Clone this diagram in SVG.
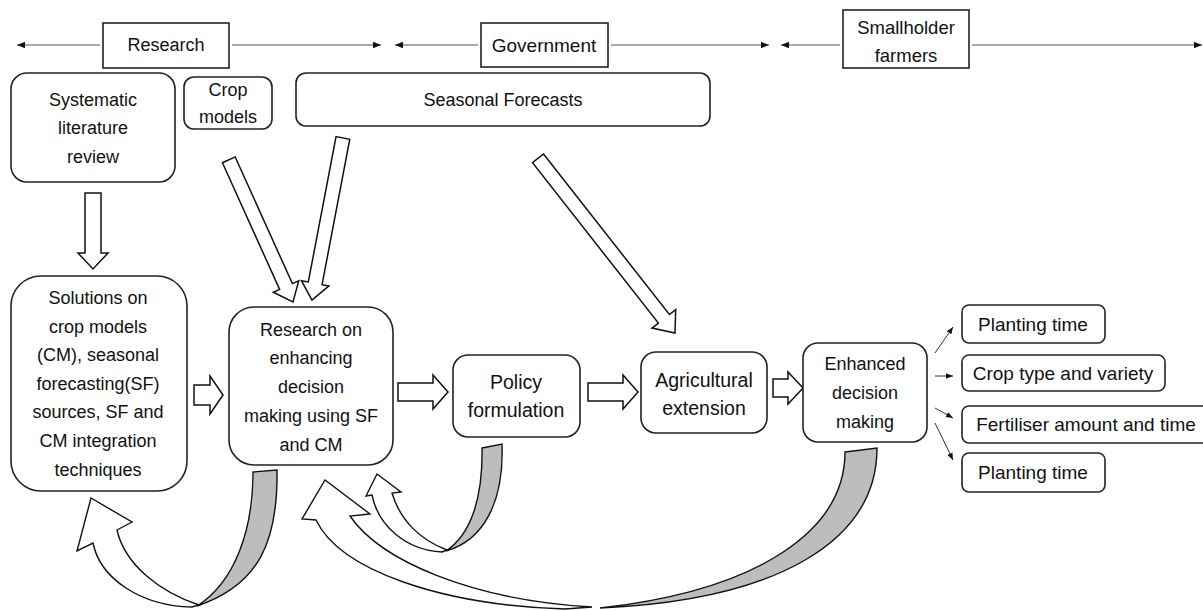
<svg xmlns="http://www.w3.org/2000/svg" width="1203" height="611" viewBox="0 0 1203 611">
<defs>
<marker id="ah" viewBox="0 0 10 10" refX="10" refY="5" markerWidth="8" markerHeight="8" markerUnits="userSpaceOnUse" orient="auto">
<path d="M0,1 L10,5 L0,9 Z" fill="#111"/>
</marker>
<marker id="as" viewBox="0 0 10 10" refX="10" refY="5" markerWidth="7" markerHeight="7" markerUnits="userSpaceOnUse" orient="auto">
<path d="M0,1 L10,5 L0,9 Z" fill="#111"/>
</marker>
</defs>
<style>
.box{fill:#fff;stroke:#222;stroke-width:1.6}
.t{font-family:"Liberation Sans",Arial,sans-serif;font-size:18px;fill:#111;text-anchor:middle;dominant-baseline:central}
.hl{stroke:#555;stroke-width:1.2;fill:none;marker-end:url(#ah)}
.sl{stroke:#333;stroke-width:1;fill:none;marker-end:url(#as)}
.ba{fill:#fff;stroke:#111;stroke-width:1.5;stroke-linejoin:miter}
.gr{fill:#bdbdbd;stroke:#111;stroke-width:1.4}
.cw{fill:#fff;stroke:#111;stroke-width:1.4}
</style>
<rect width="1203" height="611" fill="#fff"/>

<g id="connectors">
<!-- header arrows -->
<line class="hl" x1="100" y1="45" x2="17" y2="45"/>
<line class="hl" x1="232" y1="45" x2="381" y2="45"/>
<line class="hl" x1="478" y1="45" x2="395" y2="45"/>
<line class="hl" x1="611" y1="45" x2="769" y2="45"/>
<line class="hl" x1="840" y1="45" x2="781" y2="45"/>
<line class="hl" x1="972" y1="45" x2="1202" y2="45"/>
<!-- block arrows -->
<polygon class="ba" transform="translate(93,269) rotate(90)" points="-76,-8 -16,-8 -16,-15 0,0 -16,15 -16,8 -76,8"/>
<polygon class="ba" transform="translate(293,302) rotate(65.7)" points="-156,-7 -17,-7 -17,-14 0,0 -17,14 -17,7 -156,7"/>
<polygon class="ba" transform="translate(312,300) rotate(100.8)" points="-165,-7 -17,-7 -17,-14 0,0 -17,14 -17,7 -165,7"/>
<polygon class="ba" transform="translate(675,333) rotate(51.9)" points="-222,-7 -18,-7 -18,-15 0,0 -18,15 -18,7 -222,7"/>
<polygon class="ba" transform="translate(223,395)" points="-29,-10 -13,-10 -13,-19 0,0 -13,19 -13,10 -29,10"/>
<polygon class="ba" transform="translate(448,392)" points="-50,-9 -15,-9 -15,-17 0,0 -15,17 -15,9 -50,9"/>
<polygon class="ba" transform="translate(638,392)" points="-50,-9 -15,-9 -15,-17 0,0 -15,17 -15,9 -50,9"/>
<polygon class="ba" transform="translate(803,388)" points="-30,-9 -15,-9 -15,-16 0,0 -15,16 -15,9 -30,9"/>
<!-- small output arrows -->
<line class="sl" x1="935" y1="353" x2="953" y2="327"/>
<line class="sl" x1="935" y1="376" x2="953" y2="376"/>
<line class="sl" x1="935" y1="408" x2="953" y2="418"/>
<line class="sl" x1="935" y1="423" x2="953" y2="460"/>
<!-- curved feedback arrows -->
<path class="gr" d="M253,472 L277,470 C278,540 260,585 197,606 C235,582 253,530 253,472 Z"/>
<path class="cw" d="M93,543 C100,578 140,606 192,607 L199,605 C160,592 125,565 117,530 L132,522 L91,498 L77,551 Z"/>
<path class="gr" d="M482,448 L502,444 C504,500 485,540 446,551 C470,535 483,500 482,448 Z"/>
<path class="cw" d="M372,495 C378,525 405,550 442,552 L447,550 C420,540 400,520 392,493 L401,492 L377,474 L366,496 Z"/>
<path class="gr" d="M845,452 L877,448 C877,540 780,600 600,608 C760,590 845,530 845,452 Z"/>
<path class="cw" d="M316,520 C340,570 440,605 565,609 L592,607 C470,600 380,560 350,516 L370,514 L325,480 L302,519 Z"/>
</g>

<g id="hdr-research">
<rect class="box" x="103" y="23" width="126" height="45"/>
<text class="t" x="166" y="45">Research</text>
</g>
<g id="hdr-government">
<rect class="box" x="481" y="23" width="127" height="44"/>
<text class="t" x="544" y="45" style="font-size:19px">Government</text>
</g>
<g id="hdr-farmers">
<rect class="box" x="843" y="10" width="126" height="58"/>
<text class="t" x="906" y="27" style="font-size:18.5px">Smallholder</text>
<text class="t" x="906" y="55" style="font-size:18.5px">farmers</text>
</g>

<g id="slr">
<rect class="box" x="11" y="73" width="164" height="109" rx="16"/>
<text class="t" x="93" y="100">Systematic</text>
<text class="t" x="93" y="128">literature</text>
<text class="t" x="93" y="157">review</text>
</g>
<g id="crop-models">
<rect class="box" x="184" y="77" width="88" height="52" rx="10"/>
<text class="t" x="228" y="90">Crop</text>
<text class="t" x="228" y="117">models</text>
</g>
<g id="seasonal-forecasts">
<rect class="box" x="296" y="73" width="414" height="53" rx="10"/>
<text class="t" x="503" y="100">Seasonal Forecasts</text>
</g>

<g id="solutions">
<rect class="box" x="11" y="276" width="176" height="215" rx="30"/>
<text class="t" x="98" y="298">Solutions on</text>
<text class="t" x="98" y="327">crop models</text>
<text class="t" x="98" y="355">(CM), seasonal</text>
<text class="t" x="98" y="384">forecasting(SF)</text>
<text class="t" x="98" y="412">sources, SF and</text>
<text class="t" x="98" y="441">CM integration</text>
<text class="t" x="98" y="470">techniques</text>
</g>
<g id="research-enhancing">
<rect class="box" x="229" y="307" width="164" height="158" rx="25"/>
<text class="t" x="311" y="330">Research on</text>
<text class="t" x="311" y="358">enhancing</text>
<text class="t" x="311" y="387">decision</text>
<text class="t" x="311" y="416">making using SF</text>
<text class="t" x="311" y="445">and CM</text>
</g>
<g id="policy">
<rect class="box" x="453" y="355" width="127" height="82" rx="15"/>
<text class="t" x="516" y="382" style="font-size:19.5px">Policy</text>
<text class="t" x="516" y="410" style="font-size:19.5px">formulation</text>
</g>
<g id="agri-extension">
<rect class="box" x="641" y="352" width="126" height="81" rx="15"/>
<text class="t" x="704" y="380" style="font-size:19.5px">Agricultural</text>
<text class="t" x="704" y="408" style="font-size:19.5px">extension</text>
</g>
<g id="enhanced">
<rect class="box" x="803" y="343" width="124" height="99" rx="15"/>
<text class="t" x="865" y="364">Enhanced</text>
<text class="t" x="865" y="393">decision</text>
<text class="t" x="865" y="422">making</text>
</g>

<g id="out-planting1">
<rect class="box" x="962" y="305" width="143" height="38" rx="7"/>
<text class="t" x="1033" y="324" style="font-size:19px">Planting time</text>
</g>
<g id="out-crop">
<rect class="box" x="962" y="355" width="203" height="36" rx="7"/>
<text class="t" x="1063" y="373" style="font-size:19px">Crop type and variety</text>
</g>
<g id="out-fert">
<rect class="box" x="962" y="406" width="250" height="37" rx="7"/>
<text class="t" x="1086" y="424" style="font-size:19px">Fertiliser amount and time</text>
</g>
<g id="out-planting2">
<rect class="box" x="962" y="453" width="143" height="39" rx="7"/>
<text class="t" x="1033" y="472" style="font-size:19px">Planting time</text>
</g>
</svg>
